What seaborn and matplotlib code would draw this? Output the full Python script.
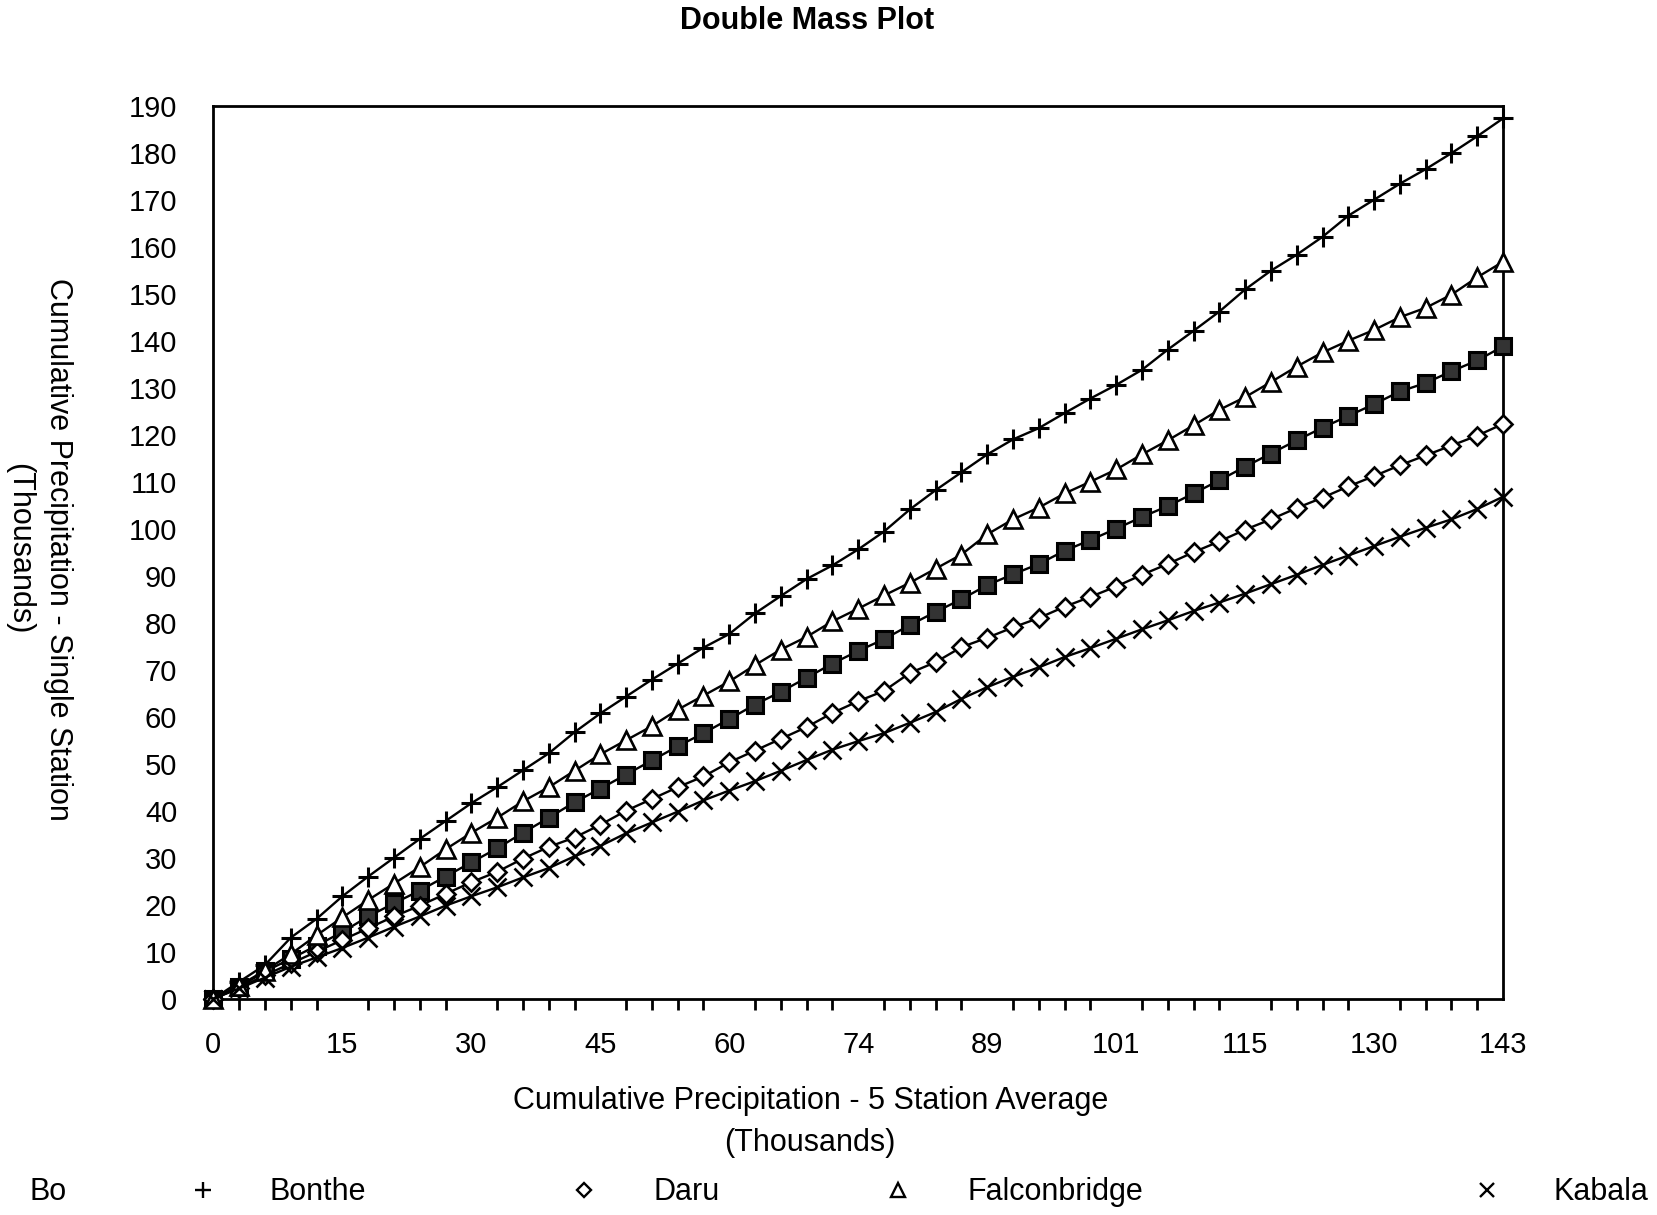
import numpy as np
import pandas as pd
import matplotlib
matplotlib.use("Agg")
import matplotlib.pyplot as plt
from matplotlib.lines import Line2D
import seaborn as sns

# ---------------- data ----------------
x_tick_labels = [0, 15, 30, 45, 60, 74, 89, 101, 115, 130, 143]

bo = [0, 2.5, 5.8, 8.5, 11.3, 14.2, 17.5, 20.3, 23, 26, 29, 32, 35.3, 38.5, 41.8,
      44.7, 47.7, 50.7, 53.7, 56.5, 59.5, 62.6, 65.3, 68.3, 71.3, 74, 76.5, 79.5,
      82.3, 85, 88, 90.3, 92.5, 95.3, 97.6, 100, 102.5, 104.8, 107.5, 110.3, 113.2,
      116, 118.8, 121.5, 124, 126.5, 129.2, 131, 133.5, 135.8, 138.8]
bonthe = [0, 3.6, 7.2, 13, 17, 21.8, 26, 30, 34, 37.8, 41.6, 45, 48.6, 52.2, 56.7,
          60.7, 64.3, 67.9, 71.3, 74.7, 77.6, 82, 85.7, 89.3, 92.2, 95.6, 99.4, 104.1,
          108.2, 112, 115.8, 119, 121.4, 124.6, 127.7, 130.6, 133.8, 138.1, 142.1,
          146.2, 150.9, 154.9, 158.3, 162.1, 166.6, 170, 173.4, 176.5, 179.9, 183.5,
          187.3]
daru = [0, 2.3, 5, 7.5, 10, 12.5, 15, 17.5, 19.8, 22.3, 24.8, 27, 29.8, 32.3, 34.3,
        37, 40, 42.5, 45, 47.3, 50.3, 52.8, 55.3, 57.8, 60.8, 63.3, 65.5, 69.3, 71.6,
        74.8, 76.8, 79, 81, 83.4, 85.5, 87.7, 90.2, 92.5, 95, 97.3, 99.8, 102, 104.4,
        106.6, 109, 111.2, 113.5, 115.6, 117.7, 119.8, 122.3]
falconbridge = [0, 2.8, 6, 9.5, 13.5, 17.3, 21, 24.5, 28, 31.8, 35.3, 38.5, 42, 45,
                48.5, 52, 55, 58, 61.5, 64.5, 67.5, 71, 74.3, 77, 80.3, 83, 85.8, 88.5,
                91.5, 94.5, 98.8, 102, 104.5, 107.5, 110, 112.6, 115.8, 118.8, 122,
                125.3, 128, 131.2, 134.5, 137.5, 140, 142.3, 145, 147, 149.8, 153.5,
                156.8]
kabala = [0, 2.2, 4.5, 6.8, 8.8, 10.8, 13, 15.3, 17.5, 19.8, 21.8, 23.7, 25.8, 27.8,
          30.3, 32.5, 35.2, 37.5, 39.8, 42.2, 44.3, 46.3, 48.5, 50.8, 53, 54.8, 56.5,
          58.7, 61, 63.8, 66.3, 68.5, 70.5, 72.7, 74.6, 76.6, 78.6, 80.5, 82.5, 84.3,
          86.2, 88.2, 90.2, 92.3, 94.3, 96.3, 98.3, 100.2, 102, 104.2, 106.8]

stations = ["Bo", "Bonthe", "Daru", "Falconbridge", "Kabala"]
series = [bo, bonthe, daru, falconbridge, kabala]

# ---------------- style ----------------
sns.set_theme(style="white")
plt.rcParams["font.family"] = ["Liberation Sans", "DejaVu Sans"]
plt.rcParams["text.color"] = "black"

marker_styles = {
    "Bo": dict(marker="s", markersize=12, markerfacecolor="#333333",
               markeredgecolor="black", markeredgewidth=2.2),
    "Bonthe": dict(marker="+", markersize=15, markerfacecolor="none",
                   markeredgecolor="black", markeredgewidth=2.2),
    "Daru": dict(marker="D", markersize=9, markerfacecolor="white",
                 markeredgecolor="black", markeredgewidth=1.9),
    "Falconbridge": dict(marker="^", markersize=13, markerfacecolor="white",
                         markeredgecolor="black", markeredgewidth=1.9),
    "Kabala": dict(marker="x", markersize=12.5, markerfacecolor="none",
                   markeredgecolor="black", markeredgewidth=1.9),
}

fig = plt.figure(figsize=(16.57, 12.15), dpi=100)
ax = fig.add_axes([0.1288, 0.178, 0.9071 - 0.1288, 0.913 - 0.178])

period = np.arange(len(bo))
for name, vals in zip(stations, series):
    df = pd.DataFrame({"period": period, "value": vals})
    sns.lineplot(data=df, x="period", y="value", ax=ax, color="black",
                 linewidth=1.7, clip_on=False, zorder=3, **marker_styles[name])

ax.set_xlim(0, len(bo) - 1)
ax.set_ylim(0, 190)
ax.set_xticks(np.arange(0, len(bo), 5))
ax.set_xticklabels([str(v) for v in x_tick_labels])
ax.set_xticks(np.arange(0, len(bo)), minor=True)
ax.set_yticks(np.arange(0, 191, 10))
ax.tick_params(axis="both", which="major", direction="out", length=14, width=2,
               labelsize=21, color="black", labelcolor="black", pad=12)
ax.tick_params(axis="x", which="minor", direction="out", length=8, width=2,
               color="black", bottom=True)
ax.tick_params(axis="x", which="major", pad=9)
ax.set_xlabel("")
ax.set_ylabel("")
for sp in ax.spines.values():
    sp.set_color("black")
    sp.set_linewidth(2)
ax.grid(False)

# titles and labels
fig.text(0.487, 0.983, "Double Mass Plot", ha="center", va="center",
         fontsize=22, fontweight="bold")
fig.text(0.489, 0.094, "Cumulative Precipitation - 5 Station Average",
         ha="center", va="center", fontsize=22)
fig.text(0.489, 0.059, "(Thousands)", ha="center", va="center", fontsize=22)
fig.text(0.035, 0.548, "Cumulative Precipitation - Single Station",
         ha="center", va="center", rotation=-90, fontsize=22)
fig.text(0.0115, 0.548, "(Thousands)", ha="center", va="center",
         rotation=-90, fontsize=22)

# legend row
leg_y = 1 - 1192 / 1215
label_x = {"Bo": 29.6, "Bonthe": 269.5, "Daru": 653, "Falconbridge": 967,
           "Kabala": 1553}
marker_x = {"Bonthe": 203, "Daru": 584, "Falconbridge": 898, "Kabala": 1487}
for name in stations:
    fig.text(label_x[name] / 1657, leg_y, name, ha="left", va="center",
             fontsize=22)
    if name in marker_x:
        st = dict(marker_styles[name])
        st["markersize"] = st["markersize"] * 0.8
        st["markeredgewidth"] = 1.7
        fig.add_artist(Line2D([marker_x[name] / 1657], [leg_y + 0.002],
                              transform=fig.transFigure, linestyle="none", **st))

fig.savefig("out.png", dpi=100, facecolor="white")
